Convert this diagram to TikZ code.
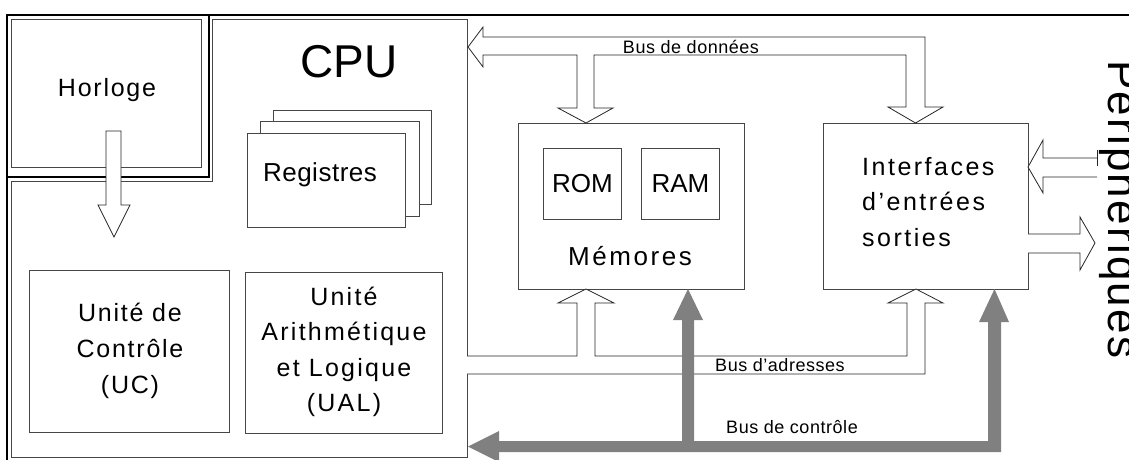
\documentclass[tikz,border=0pt]{standalone}
\usepackage{fontspec}
\setmainfont{Liberation Sans}
\usetikzlibrary{calc}
\definecolor{busgray}{RGB}{128,128,128}
\definecolor{boxgray}{RGB}{70,70,70}
\begin{document}
\begin{tikzpicture}[x=1pt,y=-1pt,
  box/.style={draw=boxgray, line width=0.8pt, inner sep=0pt, anchor=north west},
  frameline/.style={line width=2.8pt, black, line cap=rect},
  hollow/.style={draw=black!85, line width=0.8pt, fill=white, line join=miter},
  gbus/.style={fill=busgray, draw=none},
  lbl/.style={font=\fontsize{18}{20}\selectfont\addfontfeature{LetterSpace=3}, inner sep=0pt},
  txt/.style={inner sep=0pt, align=center},
]
\useasboundingbox (0,0) rectangle (1129,459);

% outer thick frame
\draw[frameline] (1129,15) -- (7,15) -- (7,459);
\draw[frameline] (209,15) -- (209,177) -- (7,177);

% CPU region (thin) and Horloge box
\node[box, minimum width=190pt, minimum height=148pt] (horloge) at (11,19) {};
\draw[draw=boxgray, line width=0.8pt] (11,181) -- (212,181) -- (212,19) -- (467,19) -- (467,457) -- (11,457) -- cycle;

% Registres stack
\node[box, fill=white, minimum width=158pt, minimum height=94pt] (reg3) at (273,110) {};
\node[box, fill=white, minimum width=159pt, minimum height=95pt] (reg2) at (260,121) {};
\node[box, fill=white, minimum width=158pt, minimum height=94pt] (reg1) at (247,133) {};

% UC and UAL boxes
\node[box, minimum width=200pt, minimum height=162pt] (uc) at (29,270) {};
\node[box, minimum width=197pt, minimum height=161pt] (ual) at (245,272) {};

% Memories and IO
\node[box, minimum width=226pt, minimum height=166pt] (mem) at (518,123) {};
\node[box, minimum width=78pt, minimum height=71pt] (rom) at (543,148) {};
\node[box, minimum width=78pt, minimum height=71pt] (ram) at (641,148) {};
\node[box, minimum width=205pt, minimum height=166pt] (io) at (823,123) {};

% texts
\node[txt, font=\fontsize{25}{30}\selectfont\addfontfeature{LetterSpace=7}] (thorloge) at (107,90) {Horloge};
\node[txt, font=\fontsize{46}{50}\selectfont] (tcpu) at (349,62) {CPU};
\node[txt, font=\fontsize{26}{30}\selectfont\addfontfeature{LetterSpace=2}] (treg) at (320,175) {Registres};
\node[txt, font=\fontsize{25}{36}\selectfont\addfontfeature{LetterSpace=7}] (tuc) at (130,351) {Unité de\\Contrôle\\(UC)};
\node[txt, font=\fontsize{25}{35.5}\selectfont\addfontfeature{LetterSpace=9}] (tual) at (344,352) {Unité\\Arithmétique\\et Logique\\(UAL)};
\node[txt, font=\fontsize{26}{30}\selectfont] (trom) at (rom.center) {ROM};
\node[txt, font=\fontsize{26}{30}\selectfont] (tram) at (ram.center) {RAM};
\node[txt, font=\fontsize{26}{30}\selectfont\addfontfeature{LetterSpace=10}] (tmem) at (630,256) {Mémores};
\node[inner sep=0pt, align=left, anchor=west, font=\fontsize{25}{35.5}\selectfont\addfontfeature{LetterSpace=10}] (tio) at (862,202) {Interfaces\\d’entrées\\sorties};
\node[inner sep=0pt, rotate=-90, anchor=base west, font=\fontsize{44}{46}\selectfont\addfontfeature{LetterSpace=5}] (tperi) at (1108,60) {Périphériques};

% Horloge -> UC arrow
\draw[hollow] (106,131) -- (121,131) -- (121,205) -- (130,205) -- (114,237) -- (98,205) -- (106,205) -- cycle;

% data bus
\draw[hollow] (468,47) -- (483,27) -- (483,37) -- (925,37) -- (925,107) -- (943,107) -- (915.5,123)
  -- (888,107) -- (906,107) -- (906,55) -- (594,55) -- (594,108) -- (613,108) -- (586,123)
  -- (558,108) -- (577,108) -- (577,55) -- (483,55) -- (483,67) -- cycle;
\node[lbl] (ldata) at (691,47) {Bus de données};

% address bus
\fill[white] (467,356) rectangle (925,374);
\draw[hollow] (467,356) -- (577,356) -- (577,303) -- (558,303) -- (586,289) -- (614,303) -- (595,303)
  -- (595,356) -- (907,356) -- (907,303) -- (888,303) -- (916,289) -- (943,303) -- (925,303)
  -- (925,374) -- (467,374);
\node[lbl] (laddr) at (780,365) {Bus d’adresses};

% control bus
\fill[gbus] (468,446.5) -- (499,431) -- (499,441) -- (682,441) -- (682,320) -- (673,320) -- (688,289)
  -- (703,320) -- (694,320) -- (694,441) -- (988,441) -- (988,322) -- (979,322) -- (994.5,289)
  -- (1009,322) -- (1001,322) -- (1001,452) -- (499,452) -- (499,462) -- cycle;
\node[lbl] (lctrl) at (792,427) {Bus de contrôle};

% peripherals in / out
\draw[hollow] (1097,158) -- (1043,158) -- (1043,140) -- (1028,167) -- (1043,193) -- (1043,177) -- (1097,177);
\draw[black!85, line width=0.8pt] (1097,150) -- (1097,166);
\draw[hollow] (1028,234) -- (1080,234) -- (1080,217) -- (1095,243) -- (1080,270) -- (1080,253) -- (1028,253);
\end{tikzpicture}
\end{document}
